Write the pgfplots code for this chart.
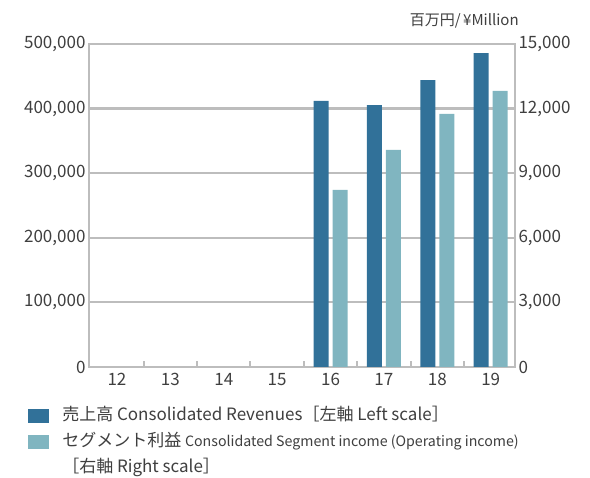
\documentclass[border=0pt]{standalone}
\usepackage{fontspec}
\setmainfont{Noto Sans CJK JP}
\usepackage{pgfplots}
\pgfplotsset{compat=1.18}
\definecolor{rev}{HTML}{317199}
\definecolor{seg}{HTML}{80B5C0}
\definecolor{gridc}{HTML}{BDBDBD}
\definecolor{txt}{HTML}{3F3F3F}

\pgfplotsset{
  base/.style={
    width=426pt, height=323pt, scale only axis,
    xmin=11.476, xmax=19.455,
    clip=false,
    scaled y ticks=false,
    tick label style={font=\fontsize{17}{20}\selectfont, text=txt},
    axis line style={gridc, line width=2pt},
    major tick length=0pt,
  },
}

\begin{document}
\begin{tikzpicture}
\begin{axis}[base, name=ax,
    ymin=0, ymax=500000,
    ytick={0,100000,200000,300000,400000,500000},
    yticklabels={0,{100,000},{200,000},{300,000},{400,000},{500,000}},
    xtick={12,13,14,15,16,17,18,19},
    xticklabels={12,13,14,15,16,17,18,19},
    xticklabel style={yshift=-3pt},
    minor xtick={12.5,13.5,14.5,15.5,16.5,17.5,18.5},
    minor tick length=6pt, tick align=inside,
    minor tick style={gridc, line width=2pt},
    xtick pos=bottom, ytick pos=left,
    ymajorgrids, major grid style={gridc, line width=2.2pt},
]
\addplot[ybar, bar width=15pt, bar shift=-9.5pt, fill=rev, draw=none, forget plot]
    coordinates {(16,412000) (17,405500) (18,444000) (19,486000)};
\node[anchor=east, font=\fontsize{15}{18}\selectfont, text=txt]
    at (rel axis cs:1.017,1.072) {百万円/\,¥Million};
\end{axis}

\begin{axis}[base,
    ymin=0, ymax=15000,
    ytick={0,3000,6000,9000,12000,15000},
    yticklabels={0,{3,000},{6,000},{9,000},{12,000},{15,000}},
    axis x line=none, axis y line*=right,
    legend image code/.code={\fill[#1] (0pt,-7pt) rectangle (21pt,7pt);},
    legend cell align=left,
    legend style={at={(-0.143,-0.125)}, anchor=north west, draw=none,
        inner sep=0pt, column sep=13pt, row sep=9pt,
        font=\fontsize{17}{20}\selectfont, text=txt,
        nodes={inner sep=0pt, text height=13pt, text depth=4pt}},
]
\addplot[ybar, bar width=15pt, bar shift=9.5pt, fill=seg, draw=none, forget plot]
    coordinates {(16,8220) (17,10080) (18,11750) (19,12820)};
\addlegendimage{fill=rev, draw=none}
\addlegendentry{売上高 Consolidated Revenues［左軸 Left scale］}
\addlegendimage{fill=seg, draw=none}
\addlegendentry{セグメント利益 {\fontsize{14.2}{17}\selectfont Consolidated Segment income (Operating income)}}
\addlegendimage{empty legend}
\addlegendentry{［右軸 Right scale］}
\end{axis}
\path (ax.south west) ++(-89pt,-111pt) rectangle ++(590pt,478pt);
\end{tikzpicture}
\end{document}
